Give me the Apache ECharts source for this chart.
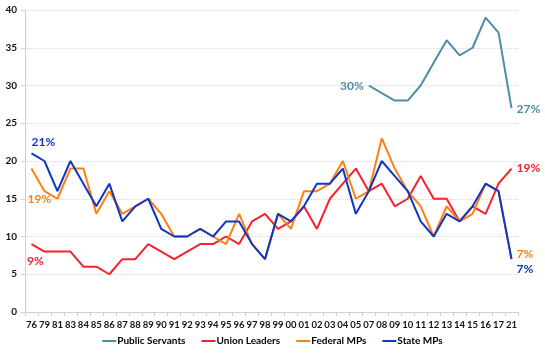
<!DOCTYPE html>
<html>
<head>
<meta charset="utf-8">
<script src="https://cdn.jsdelivr.net/npm/echarts@6/dist/echarts.min.js"></script>
<style>
html,body{margin:0;padding:0;background:#fff;}
#chart{width:545px;height:355px;}
</style>
</head>
<body>
<div id="chart"></div>
<script>
const categories = ['76','79','81','83','84','85','86','87','88','89','90','91','92','93','94','95','96','97','98','99','00','01','02','03','04','05','07','08','09','10','11','12','13','14','15','16','17','21'];
const publicServants = [null,null,null,null,null,null,null,null,null,null,null,null,null,null,null,null,null,null,null,null,null,null,null,null,null,null,30,29,28,28,30,33,36,34,35,39,37,27];
const unionLeaders = [9,8,8,8,6,6,5,7,7,9,8,7,8,9,9,10,9,12,13,11,12,14,11,15,17,19,16,17,14,15,18,15,15,12,14,13,17,19];
const federalMPs = [19,16,15,19,19,13,16,13,14,15,13,10,10,11,10,9,13,9,7,13,11,16,16,17,20,15,16,23,19,16,14,10,14,12,13,17,16,7];
const stateMPs = [21,20,16,20,17,14,17,12,14,15,11,10,10,11,10,12,12,9,7,13,12,14,17,17,19,13,16,20,18,16,12,10,13,12,14,17,16,7];
const seriesNames = ['Public Servants','Union Leaders','Federal MPs','State MPs'];
const yTicks = {min: 0, max: 40, interval: 5};

const colors = {
  'Public Servants': '#4f8ca5',
  'Union Leaders': '#f8202e',
  'Federal MPs': '#ff7f10',
  'State MPs': '#0f36c2'
};

const labelFont = {fontFamily: 'Lato', fontWeight: 'bold', fontSize: 12};

function withLabels(values, color, labelSpecs) {
  return values.map((v, i) => {
    const spec = labelSpecs[i === 0 || (i > 0 && values[i-1] === null && v !== null) ? 'first' : (i === values.length - 1 ? 'last' : null)];
    if (v === null || !spec) return v;
    return {
      value: v,
      label: Object.assign({show: true, color: color, formatter: v + '%'}, labelFont, spec)
    };
  });
}

function makeSeries(name, values, labelSpecs) {
  const c = colors[name];
  return {
    name: name,
    type: 'line',
    data: withLabels(values, c, labelSpecs),
    symbol: 'circle',
    symbolSize: 0,
    showSymbol: true,
    lineStyle: {color: c, width: 2},
    itemStyle: {color: c},
    label: {show: false},
    emphasis: {disabled: true},
    z: 2
  };
}

const chart = echarts.init(document.getElementById('chart'), null, {renderer: 'canvas'});
chart.setOption({
  animation: false,
  grid: {left: 25, right: 27, top: 10, bottom: 43, containLabel: false},
  legend: {
    data: seriesNames.map(n => ({name: n, icon: 'rect'})),
    bottom: 4,
    left: 'center',
    itemWidth: 14,
    itemHeight: 2,
    itemGap: 16,
    textStyle: {fontFamily: 'Lato', fontWeight: 'bold', fontSize: 10, color: '#000', padding: [0,0,0,-4]}
  },
  xAxis: {
    type: 'category',
    data: categories,
    boundaryGap: true,
    axisLine: {lineStyle: {color: '#d0d0d0'}},
    axisTick: {show: true, interval: 0, length: 4, lineStyle: {color: '#d0d0d0'}},
    axisLabel: {interval: 0, margin: 8, fontFamily: 'Lato', fontWeight: 'bold', fontSize: 9.5, color: '#111'}
  },
  yAxis: {
    type: 'value',
    min: yTicks.min,
    max: yTicks.max,
    interval: yTicks.interval,
    axisLine: {show: true, lineStyle: {color: '#d0d0d0'}},
    axisTick: {show: true, length: 4, lineStyle: {color: '#d0d0d0'}},
    splitLine: {show: true, lineStyle: {color: '#d9d9d9', type: 'dotted'}},
    axisLabel: {margin: 8, fontFamily: 'Lato', fontWeight: 'bold', fontSize: 10, color: '#111'}
  },
  series: [
    makeSeries('Public Servants', publicServants, {
      first: {position: 'left', distance: 5, offset: [0, 1]},
      last: {position: 'right', distance: 5, offset: [0, 1]}
    }),
    makeSeries('Union Leaders', unionLeaders, {
      first: {position: 'bottom', distance: 5, offset: [4, 6]},
      last: {position: 'right', distance: 5, offset: [0, 0]}
    }),
    makeSeries('Federal MPs', federalMPs, {
      first: {position: 'bottom', distance: 5, offset: [8, 20]},
      last: {position: 'right', distance: 5, offset: [0, -5]}
    }),
    makeSeries('State MPs', stateMPs, {
      first: {position: 'top', distance: 5, offset: [12, 0]},
      last: {position: 'right', distance: 5, offset: [0, 10]}
    })
  ]
});
</script>
</body>
</html>
